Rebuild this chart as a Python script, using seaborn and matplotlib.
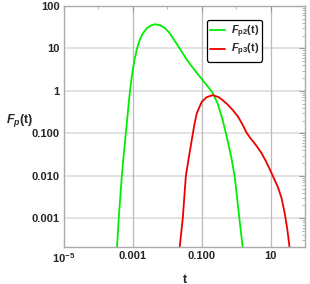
import numpy as np
import pandas as pd
import matplotlib
matplotlib.use("Agg")
import matplotlib.pyplot as plt
import seaborn as sns
from matplotlib.ticker import FixedLocator, FixedFormatter, LogLocator, NullFormatter

# log10(t), log10(F)
fp2_logt = [-3.50, -3.46, -3.41, -3.32, -3.26, -3.20, -3.145, -3.09, -3.03, -2.96, -2.88, -2.80, -2.74,
            -2.66, -2.59, -2.48, -2.36, -2.22, -2.07, -1.95, -1.84, -1.64, -1.43, -1.14,
            -0.97, -0.82, -0.68, -0.54, -0.39, -0.25, -0.14, -0.04, 0.10, 0.19, 0.21]
fp2_logv = [-4.20, -3.68, -3.00, -2.00, -1.45, -0.97, -0.50, -0.05, 0.35, 0.70, 1.00, 1.20, 1.31,
            1.41, 1.48, 1.54, 1.57, 1.55, 1.48, 1.38, 1.25, 1.00, 0.73, 0.42,
            0.25, 0.10, -0.05, -0.29, -0.69, -1.16, -1.57, -2.03, -3.05, -3.68, -4.00]
fp3_logt = [-1.67, -1.64, -1.55, -1.46, -1.37, -1.29, -1.21, -1.14, -1.00, -0.86, -0.68, -0.50,
            -0.39, -0.25, -0.10, 0.05, 0.19, 0.30, 0.42, 0.54, 0.64, 0.74, 0.88, 1.03, 1.12,
            1.22, 1.32, 1.41, 1.49, 1.55, 1.58]
fp3_logv = [-4.20, -3.68, -3.00, -2.00, -1.55, -1.16, -0.78, -0.52, -0.26, -0.15, -0.10, -0.15,
            -0.22, -0.32, -0.45, -0.60, -0.80, -0.98, -1.12, -1.24, -1.35, -1.47, -1.68, -1.94, -2.10,
            -2.28, -2.53, -2.88, -3.28, -3.68, -4.00]

xticks = [1e-5, 1e-3, 1e-1, 1e1]
xticklabels = [r"$\mathbf{10^{-5}}$", "0.001", "0.100", "10"]
yticks = [1e-3, 1e-2, 1e-1, 1, 10, 100]
yticklabels = ["0.001", "0.010", "0.100", "1", "10", "100"]
series_names = [r"$F_{\mathrm{p2}}$(t)", r"$F_{\mathrm{p3}}$(t)"]

df = pd.concat([
    pd.DataFrame({"t": 10 ** np.array(fp2_logt), "F": 10 ** np.array(fp2_logv), "s": series_names[0]}),
    pd.DataFrame({"t": 10 ** np.array(fp3_logt), "F": 10 ** np.array(fp3_logv), "s": series_names[1]}),
])

sns.set_style("white")
plt.rcParams["font.family"] = ["Liberation Sans", "DejaVu Sans"]
plt.rcParams["font.weight"] = "bold"
plt.rcParams["mathtext.fontset"] = "custom"
plt.rcParams["mathtext.it"] = "Liberation Sans:italic:bold"
plt.rcParams["mathtext.rm"] = "Liberation Sans:bold"
plt.rcParams["mathtext.bf"] = "Liberation Sans:bold"

fig = plt.figure(figsize=(3.1, 2.84), dpi=100)
ax = fig.add_axes([64 / 310, 1 - 247 / 284, 241 / 310, 241 / 284])

sns.lineplot(data=df, x="t", y="F", hue="s", sort=False, estimator=None,
             palette=["#00ee00", "#ee0000"], linewidth=1.3, ax=ax, legend=True)
ax.set_xscale("log")
ax.set_yscale("log")
ax.set_xlim(1e-5, 1e2)
ax.set_ylim(2.1e-4, 100)

ax.xaxis.set_major_locator(FixedLocator(xticks))
ax.xaxis.set_major_formatter(FixedFormatter(xticklabels))
ax.xaxis.set_minor_locator(FixedLocator([1e-4, 1e-2, 1]))
ax.xaxis.set_minor_formatter(NullFormatter())
ax.yaxis.set_major_locator(FixedLocator(yticks))
ax.yaxis.set_major_formatter(FixedFormatter(yticklabels))
ax.yaxis.set_minor_locator(LogLocator(base=10, subs=np.arange(2, 10), numticks=20))
ax.yaxis.set_minor_formatter(NullFormatter())

ax.tick_params(which="both", direction="in", top=True, right=True, color="#999999")
ax.tick_params(which="major", length=4, width=0.8, labelsize=8, pad=3)
ax.tick_params(which="minor", length=2, width=0.5)
for lab in ax.get_xticklabels() + ax.get_yticklabels():
    lab.set_fontweight("bold")

for sp in ax.spines.values():
    sp.set_color("#aaaaaa")
    sp.set_linewidth(1.0)

for y in yticks:
    ax.axhline(y, color="#dddddd", lw=1.2, zorder=0)
for x in xticks[1:]:
    ax.axvline(x, color="#bbbbbb", lw=0.9, zorder=0)

ax.set_xlabel("t", fontsize=9, fontweight="bold")
ax.xaxis.set_label_coords(0.502, -0.11)
ax.set_ylabel(r"$F_p$(t)", fontsize=9, fontweight="bold", rotation=0)
ax.yaxis.set_label_coords(-0.185, 0.49)

handles, labels = ax.get_legend_handles_labels()
leg = ax.legend(handles, labels, loc="upper left", bbox_to_anchor=(0.593, 0.942), fontsize=7.8,
                frameon=True, fancybox=True, edgecolor="black", framealpha=1,
                handlelength=1.4, handletextpad=0.5, borderpad=0.3, labelspacing=0.22,
                borderaxespad=0)
leg.get_frame().set_linewidth(0.9)
for t in leg.get_texts():
    t.set_fontweight("bold")

fig.savefig("out.png", dpi=100)
